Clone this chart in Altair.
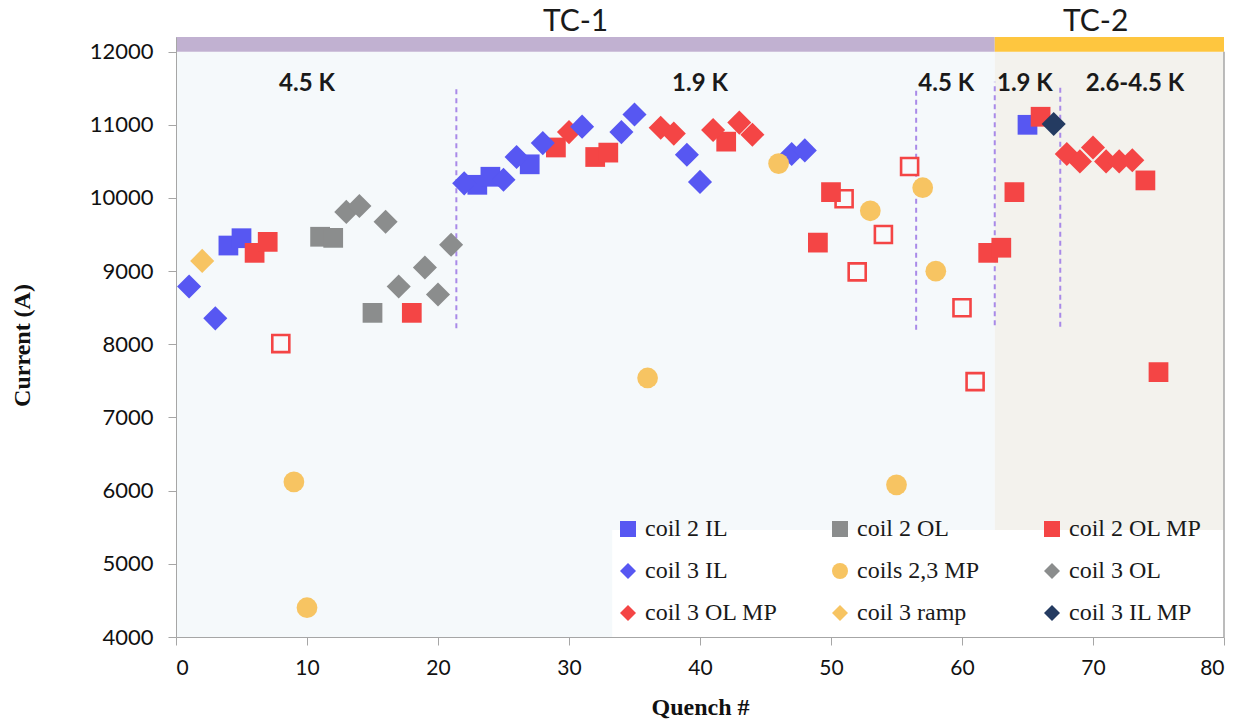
import altair as alt
import pandas as pd

# ---- quench currents (quench number, current in A) per coil / location ----
coil2_il_q = [4, 5, 23, 24, 27, 65]
coil2_il_i = [9350, 9450, 10180, 10290, 10460, 11000]
coil2_ol_q = [11, 12, 15]
coil2_ol_i = [9470, 9455, 8430]
coil2_olmp_q = [6, 7, 18, 29, 32, 33, 42, 49, 50, 62, 63, 64, 66, 74, 75]
coil2_olmp_i = [9250, 9400, 8430, 10690, 10560, 10620, 10770, 9390, 10080,
                9250, 9320, 10080, 11110, 10240, 7620]
coil3_il_q = [1, 3, 22, 25, 26, 28, 31, 34, 35, 39, 40, 47, 48]
coil3_il_i = [8790, 8355, 10200, 10250, 10560, 10750, 10975, 10900, 11140,
              10590, 10220, 10600, 10650]
coils23_mp_q = [9, 10, 36, 46, 53, 55, 57, 58]
coils23_mp_i = [6120, 4400, 7540, 10470, 9825, 6080, 10140, 9000]
coil3_ol_q = [13, 14, 16, 17, 19, 20, 21]
coil3_ol_i = [9810, 9890, 9675, 8790, 9050, 8680, 9360]
coil3_olmp_q = [30, 37, 38, 41, 43, 44, 68, 69, 70, 71, 72, 73]
coil3_olmp_i = [10900, 10960, 10880, 10930, 11030, 10865, 10600, 10500,
                10690, 10500, 10500, 10515]
coil3_ramp_q = [2]
coil3_ramp_i = [9140]
coil3_ilmp_q = [67]
coil3_ilmp_i = [11010]
# open red squares (no legend entry)
open_q = [8, 51, 52, 54, 56, 60, 61]
open_i = [8010, 9990, 8990, 9500, 10430, 8500, 7490]

# ---- series definitions (legend is filled column by column) ----
names = ["coil 2 IL", "coil 3 IL", "coil 3 OL MP",
         "coil 2 OL", "coils 2,3 MP", "coil 3 ramp",
         "coil 2 OL MP", "coil 3 OL", "coil 3 IL MP"]
colors = ["#5757f2", "#5757f2", "#f44545",
          "#8b8d8d", "#f7c462", "#f7c462",
          "#f44545", "#8b8d8d", "#243b61"]
shapes = ["square", "diamond", "diamond",
          "square", "circle", "diamond",
          "square", "diamond", "diamond"]
shape_size = {"square": 390, "diamond": 580, "circle": 430}
series_data = {
    "coil 2 IL": (coil2_il_q, coil2_il_i),
    "coil 2 OL": (coil2_ol_q, coil2_ol_i),
    "coil 2 OL MP": (coil2_olmp_q, coil2_olmp_i),
    "coil 3 IL": (coil3_il_q, coil3_il_i),
    "coils 2,3 MP": (coils23_mp_q, coils23_mp_i),
    "coil 3 OL": (coil3_ol_q, coil3_ol_i),
    "coil 3 OL MP": (coil3_olmp_q, coil3_olmp_i),
    "coil 3 ramp": (coil3_ramp_q, coil3_ramp_i),
    "coil 3 IL MP": (coil3_ilmp_q, coil3_ilmp_i),
}
# drawing order (later series on top)
draw_order = ["coil 2 IL", "coil 2 OL", "coil 2 OL MP", "coil 3 OL MP",
              "coil 3 IL", "coil 3 OL", "coils 2,3 MP", "coil 3 ramp",
              "coil 3 IL MP"]

rows = []
z = 0
for name in draw_order:
    shp = shapes[names.index(name)]
    for q, i in zip(*series_data[name]):
        rows.append({"q": q, "i": i, "series": name, "sz": shape_size[shp], "z": z})
        z += 1
pts = pd.DataFrame(rows)
open_df = pd.DataFrame({"q": open_q, "i": open_i})

# ---- test-campaign regions, temperature segments ----
region_x0 = [0, 62.5]
region_x1 = [62.5, 80]
region_fill = ["#f5f9fb", "#f3f2ed"]
band_fill = ["#c1b1d1", "#fec63f"]
campaign_names = ["TC-1", "TC-2"]
campaign_x = [30.5, 70.2]
regions = pd.DataFrame({"x0": region_x0, "x1": region_x1, "fill": region_fill,
                        "band": band_fill, "lo": 4000, "top": 12000, "band_top": 12200})
campaigns = pd.DataFrame({"x": campaign_x, "label": campaign_names, "y": 12404})

temp_labels = ["4.5 K", "1.9 K", "4.5 K", "1.9 K", "2.6-4.5 K"]
temp_x = [10.0, 40.0, 58.8, 64.8, 73.2]
temps = pd.DataFrame({"x": temp_x, "label": temp_labels, "y": 11557})

div_q = [21.4, 56.5, 62.5, 67.5]
div_lo = [8220, 8200, 8260, 8240]
div_hi = [11520, 11500, 11590, 11550]
dividers = pd.DataFrame({"q": div_q, "lo": div_lo, "hi": div_hi})

legend_box = pd.DataFrame({"x0": [33.3], "x1": [80], "lo": [4000], "hi": [5464]})
frame = pd.DataFrame({"x": [80], "lo": [4000], "hi": [12000]})

x_scale = alt.Scale(domain=[0, 80], nice=False, zero=False)
y_scale = alt.Scale(domain=[4000, 12200], nice=False, zero=False)

tick_font = "Lato"
x_axis = alt.Axis(values=list(range(0, 81, 10)), title="Quench #", grid=False,
                  format="d", labelFont=tick_font, labelFontSize=21,
                  labelColor="#111111", labelPadding=12, tickColor="#a6a6a6",
                  tickSize=8, domainColor="#a6a6a6", titleFont="Liberation Serif",
                  titleFontSize=24, titleFontWeight="bold", titleColor="#111111",
                  titlePadding=17, zindex=1)
y_axis = alt.Axis(values=list(range(4000, 12001, 1000)), title="Current (A)",
                  grid=False, format="d", labelFont=tick_font, labelFontSize=22,
                  labelColor="#111111", labelPadding=15, tickColor="#a6a6a6",
                  tickSize=8, domainColor="#a6a6a6", titleFont="Liberation Serif",
                  titleFontSize=24, titleFontWeight="bold", titleColor="#111111",
                  titleX=-142, titleY=308, zindex=1)


def xy(xf, yf):
    """Shared x/y encodings so every layer resolves to the same axes."""
    return dict(x=alt.X(xf, scale=x_scale, axis=x_axis),
                y=alt.Y(yf, scale=y_scale, axis=y_axis))


background = alt.Chart(regions).mark_rect().encode(
    **xy("x0:Q", "lo:Q"), x2="x1:Q", y2="top:Q",
    fill=alt.Fill("fill:N", scale=None),
)

band = alt.Chart(regions).mark_rect().encode(
    **xy("x0:Q", "top:Q"), x2="x1:Q", y2="band_top:Q",
    fill=alt.Fill("band:N", scale=None),
)

box = alt.Chart(legend_box).mark_rect(color="white").encode(
    **xy("x0:Q", "lo:Q"), x2="x1:Q", y2="hi:Q",
)

right_edge = alt.Chart(frame).mark_rule(color="#a6a6a6", strokeWidth=1.5).encode(
    **xy("x:Q", "lo:Q"), y2="hi:Q",
)

divider_lines = alt.Chart(dividers).mark_rule(
    color="#a98ae8", strokeWidth=2, strokeDash=[5, 4]
).encode(**xy("q:Q", "lo:Q"), y2="hi:Q")

open_marks = alt.Chart(open_df).mark_point(
    shape="square", filled=False, fill="#f7fafc", fillOpacity=1,
    stroke="#f44545", strokeWidth=2.6, size=290, opacity=1
).encode(**xy("q:Q", "i:Q"))

legend_kw = dict(
    title=None, orient="none", legendX=440, legendY=480, columns=3,
    gridAlign="all", columnPadding=50, rowPadding=18,
    labelFont="Liberation Serif", labelFontSize=24, labelColor="#1a1a1a",
    labelOffset=5, labelLimit=300, symbolSize=256, symbolStrokeWidth=0,
    padding=0,
)

points = alt.Chart(pts).mark_point(filled=True, opacity=1, strokeWidth=0).encode(
    **xy("q:Q", "i:Q"),
    color=alt.Color("series:N", scale=alt.Scale(domain=names, range=colors),
                    legend=alt.Legend(**legend_kw)),
    shape=alt.Shape("series:N", scale=alt.Scale(domain=names, range=shapes),
                    legend=alt.Legend(**legend_kw)),
    size=alt.Size("sz:Q", scale=None),
    order=alt.Order("z:Q"),
)

temp_text = alt.Chart(temps).mark_text(
    font="Lato", fontSize=24, fontWeight="bold", color="#1a1a1a",
    align="center", baseline="middle"
).encode(**xy("x:Q", "y:Q"), text="label:N")

campaign_text = alt.Chart(campaigns).mark_text(
    font="Lato", fontSize=30, color="#1a1a1a", align="center", baseline="middle"
).encode(**xy("x:Q", "y:Q"), text="label:N")

chart = alt.layer(
    background, band, box, right_edge, divider_lines, open_marks, points,
    temp_text, campaign_text,
).properties(
    width=1048, height=600,
    autosize=alt.AutoSizeParams(type="none"),
    padding={"left": 176, "top": 37, "right": 17, "bottom": 87},
    background="white",
).configure_view(stroke=None)

chart.save("out.html", embed_options={"renderer": "svg", "actions": False})
